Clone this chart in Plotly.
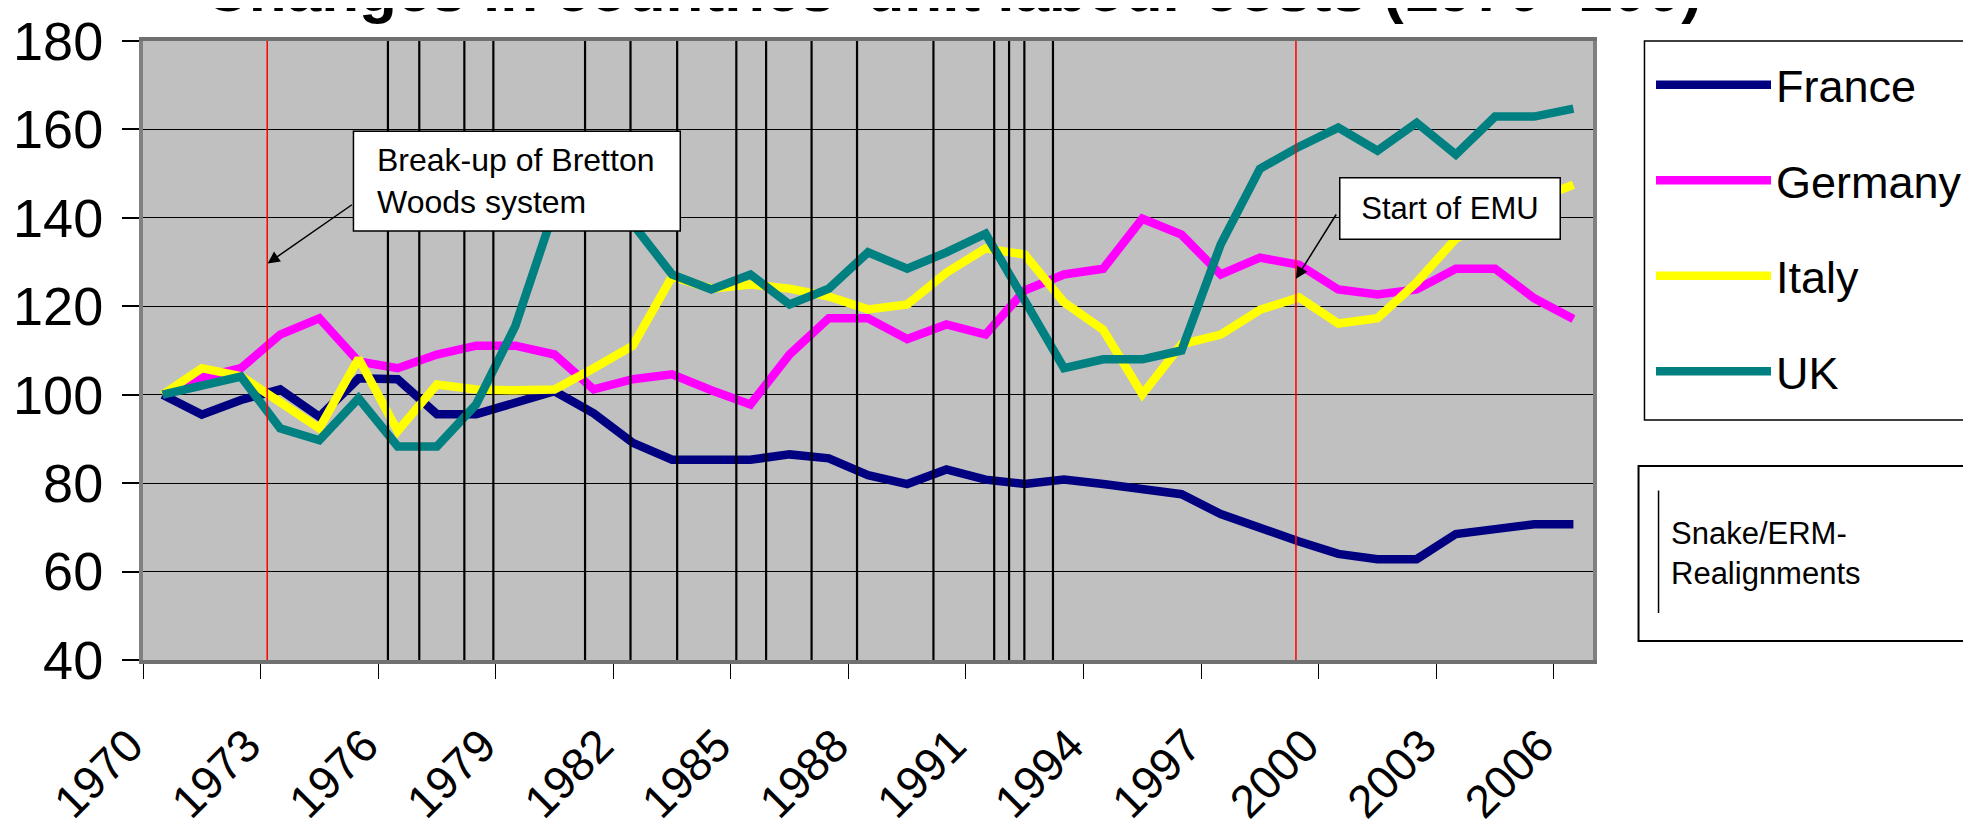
import plotly.graph_objects as go

years = list(range(1970, 2007))

france = [100, 95.5, 98.8, 101.2, 95, 103.7, 103.5, 95.6, 95.6, 98.3,
          100.8, 95.8, 89.1, 85.3, 85.3, 85.3, 86.5, 85.6, 81.8, 79.8,
          83.1, 80.8, 79.8, 80.8, 79.8, 78.7, 77.5, 73, 69.8, 66.8,
          64, 62.8, 62.8, 68.5, 69.6, 70.7, 70.7]
germany = [100, 103.9, 106, 113.6, 117.3, 107.5, 106, 109.1, 111.1, 111.1,
           109.1, 101.2, 103.5, 104.6, 101, 97.8, 109.1, 117.3, 117.3, 112.6,
           115.9, 113.6, 123.6, 127.2, 128.5, 139.8, 136.2, 127.2, 131, 129.4,
           123.8, 122.7, 123.8, 128.5, 128.5, 121.8, 117.1]
italy = [100, 106, 104.2, 98.3, 92.4, 108.2, 91.8, 102.3, 101.2, 101,
         101.2, 106, 111.1, 126.7, 124, 124.9, 124, 122.2, 119.3, 120.4,
         127.6, 133.1, 131.7, 120.9, 114.7, 100.1, 111.4, 113.6, 119.2, 122,
         116.1, 117.3, 125.4, 135.3, 140, 144, 147.5]
uk = [100, 101.9, 104.1, 92.4, 89.7, 99.2, 88.3, 88.3, 97.8, 115.5,
      142, 150, 138.5, 127.2, 123.8, 127.2, 120.4, 124, 132.2, 128.5,
      132.2, 136.4, 121.3, 106, 108, 108, 110, 134, 151.1, 156.1,
      160.4, 155.2, 161.5, 154.3, 162.9, 162.9, 164.7]

series_names = ["France", "Germany", "Italy", "UK"]
series_colors = ["#000080", "#FF00FF", "#FFFF00", "#008080"]

# Snake/ERM realignments (positions on the year axis) and key events
realignments = [1975.75, 1976.55, 1977.70, 1978.44, 1980.78, 1981.94, 1983.13,
                1984.64, 1985.40, 1986.56, 1987.72, 1989.67, 1991.22, 1991.60,
                1991.99, 1992.72]
events = [1972.67, 1998.92]

tick_years = list(range(1970, 2007, 3))
tick_labels = [str(y) for y in tick_years]
boundary_ticks = [y - 0.5 for y in tick_years]

title_text = "Changes in countries' unit labour costs (1970=100)"
font_family = "Liberation Sans, Arial, sans-serif"

fig = go.Figure()
for name, col, vals in zip(series_names, series_colors, [france, germany, italy, uk]):
    fig.add_trace(go.Scatter(x=years, y=vals, mode="lines", name=name,
                             legendgroup=name,
                             line=dict(color=col, width=8.5)))

shapes = []
for xv in realignments:
    shapes.append(dict(type="line", xref="x", yref="paper", x0=xv, x1=xv, y0=0, y1=1,
                       line=dict(color="black", width=2.2), layer="above"))
for xv in events:
    shapes.append(dict(type="line", xref="x", yref="paper", x0=xv, x1=xv, y0=0, y1=1,
                       line=dict(color="#FF0000", width=1.5), layer="above"))
# Bretton Woods text box
shapes.append(dict(type="rect", xref="x", yref="y", x0=1974.87, x1=1983.21,
                   y0=137.0, y1=159.6, line=dict(color="black", width=1.5),
                   fillcolor="white", layer="above"))
# legend frame
shapes.append(dict(type="rect", xref="paper", yref="paper", x0=1.0355, x1=1.30,
                   y0=0.3877, y1=1.0, line=dict(color="black", width=1.5),
                   fillcolor="white", layer="above"))
# Snake/ERM legend box
shapes.append(dict(type="rect", xref="paper", yref="paper", x0=1.0314, x1=1.30,
                   y0=0.0307, y1=0.3134, line=dict(color="black", width=2),
                   fillcolor="white", layer="above"))
shapes.append(dict(type="line", xref="paper", yref="paper", x0=1.0452, x1=1.0452,
                   y0=0.0759, y1=0.2738, line=dict(color="black", width=1.5),
                   layer="above"))

annotations = [
    dict(text="<b>" + title_text + "</b>", xref="paper", yref="paper",
         x=0.5583, y=1.025, xanchor="center", yanchor="bottom", showarrow=False,
         font=dict(family=font_family, size=62, color="black")),
    dict(text="Break-up of Bretton<br>Woods system", xref="x", yref="y",
         x=1975.43, y=148.3, xanchor="left", yanchor="middle",
         showarrow=False, align="left",
         font=dict(family=font_family, size=32, color="black")),
    dict(text="Start of EMU", xref="x", yref="y", x=2002.84, y=142.1,
         showarrow=False, align="center", width=205, height=46, borderpad=7,
         bgcolor="white", bordercolor="black", borderwidth=1.5,
         font=dict(family=font_family, size=31, color="black")),
    dict(text="", xref="x", yref="y", x=1972.68, y=129.7, axref="x", ayref="y",
         ax=1974.87, ay=143.2, showarrow=True, arrowhead=2, arrowsize=1.6,
         arrowwidth=1.5, arrowcolor="black", standoff=0, startstandoff=0),
    dict(text="", xref="x", yref="y", x=1998.92, y=126.2, axref="x", ayref="y",
         ax=1999.97, ay=141.1, showarrow=True, arrowhead=2, arrowsize=1.6,
         arrowwidth=1.5, arrowcolor="black", standoff=0, startstandoff=0),
    dict(text="Snake/ERM-<br>Realignments", xref="paper", yref="paper",
         x=1.0521, y=0.172, xanchor="left", yanchor="middle", align="left",
         showarrow=False, font=dict(family=font_family, size=31, color="black")),
]

# the page body adds an 8 px offset, so the figure is 8 px smaller each way
fig.update_layout(
    width=1963, height=825, autosize=False,
    margin=dict(l=135, r=378, t=33, b=173, pad=0, autoexpand=False),
    paper_bgcolor="white", plot_bgcolor="#C0C0C0",
    font=dict(family=font_family, color="black"),
    showlegend=True,
    legend=dict(x=1.0400, y=0.987, xanchor="left", yanchor="top",
                bgcolor="rgba(0,0,0,0)", borderwidth=0,
                font=dict(family=font_family, size=45, color="black"),
                itemwidth=115, tracegroupgap=34, traceorder="grouped"),
    shapes=shapes, annotations=annotations,
)

fig.update_xaxes(range=[1969.5, 2006.5], tickmode="array",
                 tickvals=tick_years, ticktext=tick_labels, ticks="", tickangle=-45,
                 tickfont=dict(family=font_family, size=46, color="black"),
                 ticklabelstandoff=36, ticklabelshift=-33, automargin=False,
                 minor=dict(tickmode="array", tickvals=boundary_ticks, ticks="outside",
                            ticklen=15, tickwidth=1, tickcolor="black", showgrid=False),
                 showgrid=False, zeroline=False, showline=True,
                 linecolor="#707070", linewidth=4, mirror=True)
fig.update_yaxes(range=[40, 180], tickmode="linear", tick0=40, dtick=20,
                 ticks="outside", ticklen=17, tickwidth=1.5, tickcolor="black",
                 tickfont=dict(family=font_family, size=54, color="black"),
                 ticklabelstandoff=8, automargin=False,
                 showgrid=True, gridcolor="black", gridwidth=1, zeroline=False,
                 showline=True, linecolor="#808080", linewidth=4, mirror=True)

fig.write_html("out.html")
